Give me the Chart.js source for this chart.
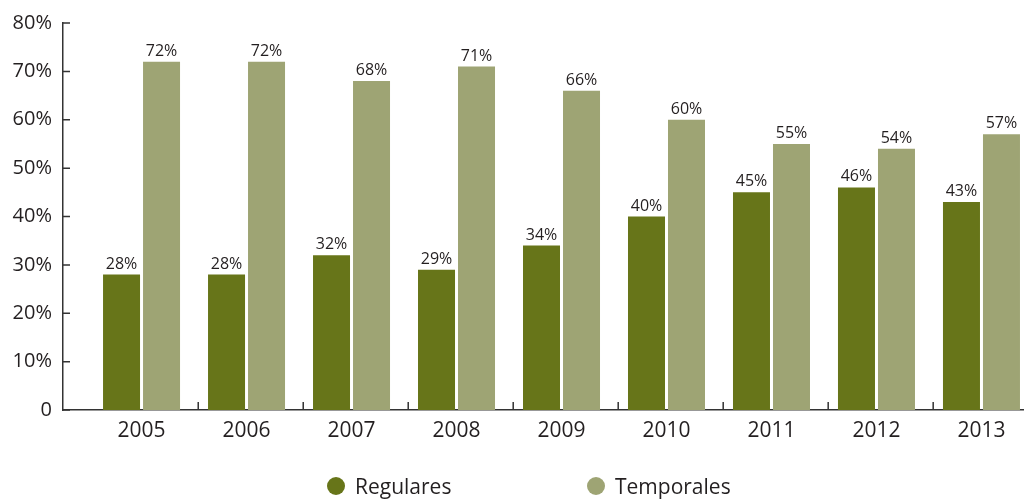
<!DOCTYPE html>
<html>
<head>
<meta charset="utf-8">
<script src="https://cdn.jsdelivr.net/npm/chart.js@4.4.1/dist/chart.umd.min.js"></script>
<style>
html, body { margin: 0; padding: 0; background: #fff; }
</style>
</head>
<body>
<canvas id="grafico" width="1024" height="499"></canvas>
<script>
const anios = ['2005', '2006', '2007', '2008', '2009', '2010', '2011', '2012', '2013'];
const regulares = [28, 28, 32, 29, 34, 40, 45, 46, 43];
const temporales = [72, 72, 68, 71, 66, 60, 55, 54, 57];
const ticksY = [0, 10, 20, 30, 40, 50, 60, 70, 80];
const nombres = ['Regulares', 'Temporales'];
const colores = ['#677519', '#9ea474'];

const colorTexto = '#231f20';
const fuente = '"Open Sans", sans-serif';

// marcas de eje, etiquetas de valores y leyenda
const extras = {
    id: 'extras',
    afterDraw(chart) {
        const ctx = chart.ctx;
        const x = chart.scales.x;
        const y = chart.scales.y;
        ctx.save();
        ctx.strokeStyle = '#333';
        ctx.lineWidth = 1.5;
        ctx.beginPath();
        ticksY.forEach(v => {
            const py = y.getPixelForValue(v);
            ctx.moveTo(x.left, py);
            ctx.lineTo(x.left + 7, py);
        });
        for (let i = 0; i < anios.length - 1; i++) {
            const px = x.getPixelForValue(i + 0.54);
            ctx.moveTo(px, y.bottom);
            ctx.lineTo(px, y.bottom - 8);
        }
        ctx.stroke();

        ctx.fillStyle = colorTexto;
        ctx.font = '16px ' + fuente;
        ctx.textAlign = 'center';
        ctx.textBaseline = 'alphabetic';
        chart.data.datasets.forEach((ds, d) => {
            chart.getDatasetMeta(d).data.forEach((bar, i) => {
                ctx.fillText(ds.data[i].y + '%', bar.x, bar.y - 6);
            });
        });

        const posLeyenda = [336, 596];
        ctx.font = '21px ' + fuente;
        ctx.textAlign = 'left';
        nombres.forEach((n, i) => {
            ctx.fillStyle = colores[i];
            ctx.beginPath();
            ctx.arc(posLeyenda[i], 486, 9, 0, Math.PI * 2);
            ctx.fill();
            ctx.fillStyle = colorTexto;
            ctx.fillText(n, posLeyenda[i] + 19, 494);
        });
        ctx.restore();
    }
};

new Chart(document.getElementById('grafico'), {
    type: 'bar',
    data: {
        datasets: [{
            label: nombres[0],
            data: regulares.map((v, i) => ({ x: i, y: v })),
            backgroundColor: colores[0]
        }, {
            label: nombres[1],
            data: temporales.map((v, i) => ({ x: i, y: v })),
            backgroundColor: colores[1]
        }]
    },
    options: {
        responsive: false,
        animation: false,
        categoryPercentage: 0.762,
        barPercentage: 0.925,
        layout: { padding: { top: 22, right: 0, bottom: 0, left: 0 } },
        plugins: {
            legend: { display: false },
            tooltip: { enabled: false }
        },
        scales: {
            x: {
                type: 'linear',
                offset: false,
                min: -0.748,
                max: 8.405,
                afterBuildTicks: s => { s.ticks = anios.map((a, i) => ({ value: i })); },
                afterFit: s => { s.height = 89; },
                grid: { display: false, drawTicks: false },
                border: { color: '#333', width: 1.5 },
                ticks: {
                    callback: v => anios[v],
                    font: { family: fuente, size: 21 },
                    color: colorTexto,
                    padding: 8,
                    maxRotation: 0
                }
            },
            y: {
                min: 0,
                max: 80,
                afterBuildTicks: s => { s.ticks = ticksY.map(v => ({ value: v })); },
                afterFit: s => { s.width = 63; },
                grid: { display: false, drawTicks: false },
                border: { color: '#333', width: 1.5 },
                ticks: {
                    callback: v => v === 0 ? '0' : v + '%',
                    font: { family: fuente, size: 20 },
                    color: colorTexto,
                    padding: 11
                }
            }
        }
    },
    plugins: [extras]
});
</script>
</body>
</html>
